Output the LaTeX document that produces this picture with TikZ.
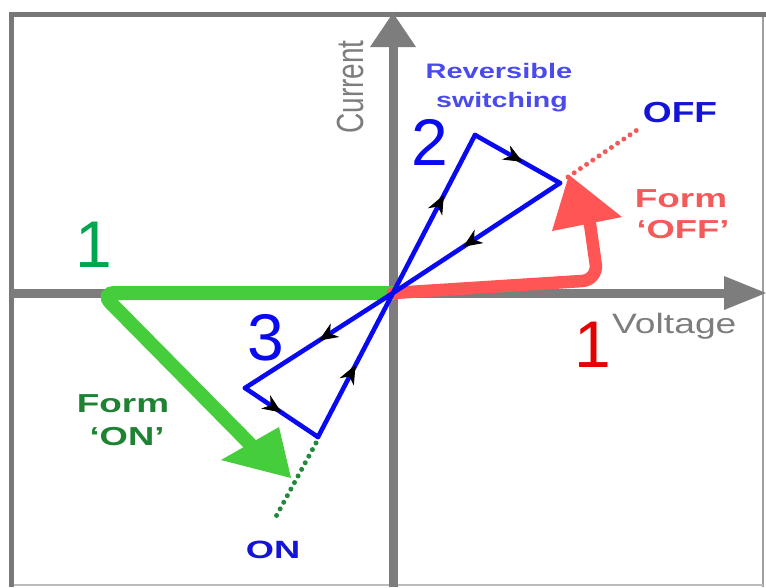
\documentclass[tikz,border=0pt]{standalone}
\usepackage{fontspec}
\setmainfont{Liberation Sans}
\usetikzlibrary{arrows.meta,decorations.markings}
\definecolor{axisgray}{RGB}{125,125,125}
\definecolor{framegray}{RGB}{120,120,120}
\definecolor{lineblue}{RGB}{10,10,240}
\definecolor{textblue}{RGB}{20,20,215}
\definecolor{lightblue}{RGB}{75,75,235}
\definecolor{formred}{RGB}{255,85,85}
\definecolor{labelred}{RGB}{245,90,90}
\definecolor{digitred}{RGB}{230,0,0}
\definecolor{formgreen}{RGB}{70,205,60}
\definecolor{digitgreen}{RGB}{0,165,80}
\definecolor{labelgreen}{RGB}{30,130,50}
\definecolor{dotgreen}{RGB}{35,135,60}
\tikzset{
  loopseg/.style={draw=lineblue,line width=4.6pt,line cap=round,
    postaction={decorate},
    decoration={markings,mark=at position #1 with {\arrow[black,line width=1pt]{Stealth[length=19pt 0,width=16pt 0,inset=6pt 0]}}}},
  digit/.style={anchor=base,inner sep=0pt,font=\fontsize{66}{70}\selectfont},
  lab/.style={anchor=base,inner sep=0pt,font=\fontsize{26}{30}\selectfont\bfseries},
  smalllab/.style={anchor=base,inner sep=0pt,font=\fontsize{21}{25}\selectfont\bfseries},
  axislab/.style={inner sep=0pt,text=axisgray,font=\fontsize{28}{32}\selectfont},
  dots/.style={line width=5pt,dash pattern=on 0pt off 7.5pt,line cap=round}
}
\begin{document}
\begin{tikzpicture}[x=1pt,y=-1pt]
\useasboundingbox (0,0) rectangle (766,587);
\fill[white] (0,0) rectangle (766,587);
% key points
\coordinate (O) at (393,293);
\coordinate (T2) at (475,135);
\coordinate (R2) at (560,183);
\coordinate (L3) at (245,388);
\coordinate (B3) at (318,437);
% frame
\draw[framegray!70,line width=1.5pt] (763,14) -- (763,587);
\draw[framegray!50,line width=1.5pt] (11,585) -- (763,585);
\draw[framegray,line width=5pt] (11,587) -- (11,14) -- (766,14);
% axes
\coordinate (vbot) at (393,587);
\coordinate (vtop) at (393,46);
\coordinate (hleft) at (11,293);
\coordinate (hright) at (726,293);
\draw[axisgray,line width=9pt] (vbot) -- (vtop);
\fill[axisgray] (370,47) -- (416,47) -- (393,13) -- cycle;
\draw[axisgray,line width=9pt] (hleft) -- (hright);
\fill[axisgray] (724,276) -- (724,310) -- (766,293) -- cycle;
% green forming
\coordinate (gc) at (101,293);
\coordinate (gb) at (250,444);
\draw[formgreen,line width=14pt,line cap=round,rounded corners=14pt] (O) -- (gc) -- (gb);
\fill[formgreen] (291,478) -- (221,460) -- (279,427) -- cycle;
% red forming
\coordinate (rc) at (598,280);
\coordinate (rb) at (590,224);
\draw[formred,line width=12.5pt,line cap=round,rounded corners=16pt] (O) -- (rc) -- (rb);
\fill[formred] (569,175) -- (552,231) -- (622,217) -- cycle;
% dotted extensions
\coordinate (ron) at (568,177);
\coordinate (roff) at (640,128);
\draw[dots,labelred] (ron) -- (roff);
\coordinate (gon) at (316,443);
\coordinate (goff) at (273,522);
\draw[dots,dotgreen] (gon) -- (goff);
% blue loops
\draw[loopseg=0.62] (O) -- (T2);
\draw[loopseg=0.56] (T2) -- (R2);
\draw[loopseg=0.58] (R2) -- (O);
\draw[loopseg=0.5] (O) -- (L3);
\draw[loopseg=0.5] (L3) -- (B3);
\draw[loopseg=0.5] (B3) -- (O);
% labels
\node[axislab,rotate=90,anchor=base] (cur) at (363,87) {\scalebox{1}[1.35]{Current}};
\node[axislab,anchor=base west] (volt) at (612,333) {\scalebox{1.33}[1]{Voltage}};
\node[smalllab,text=lightblue] (rev1) at (499,78) {\scalebox{1.38}[1]{Reversible}};
\node[smalllab,text=lightblue] (rev2) at (502,107) {\scalebox{1.36}[1]{switching}};
\node[lab,text=textblue,font=\fontsize{29}{32}\selectfont\bfseries] (off) at (680,122) {\scalebox{1.28}[1]{OFF}};
\node[lab,text=labelred] (foff1) at (681,207) {\scalebox{1.42}[1]{Form}};
\node[lab,text=labelred] (foff2) at (683,238) {\scalebox{1.4}[1]{‘OFF’}};
\node[lab,text=labelgreen] (fon1) at (123,412) {\scalebox{1.42}[1]{Form}};
\node[lab,text=labelgreen] (fon2) at (127,445) {\scalebox{1.4}[1]{‘ON’}};
\node[lab,text=textblue,font=\fontsize{25}{28}\selectfont\bfseries] (on) at (273,558) {\scalebox{1.45}[1]{ON}};
\node[digit,text=lineblue] (d2) at (430,165) {2};
\node[digit,text=lineblue] (d3) at (266,360) {3};
\node[digit,text=digitgreen] (g1) at (94,267) {1};
\node[digit,text=digitred] (r1) at (593,367) {1};
\end{tikzpicture}
\end{document}
